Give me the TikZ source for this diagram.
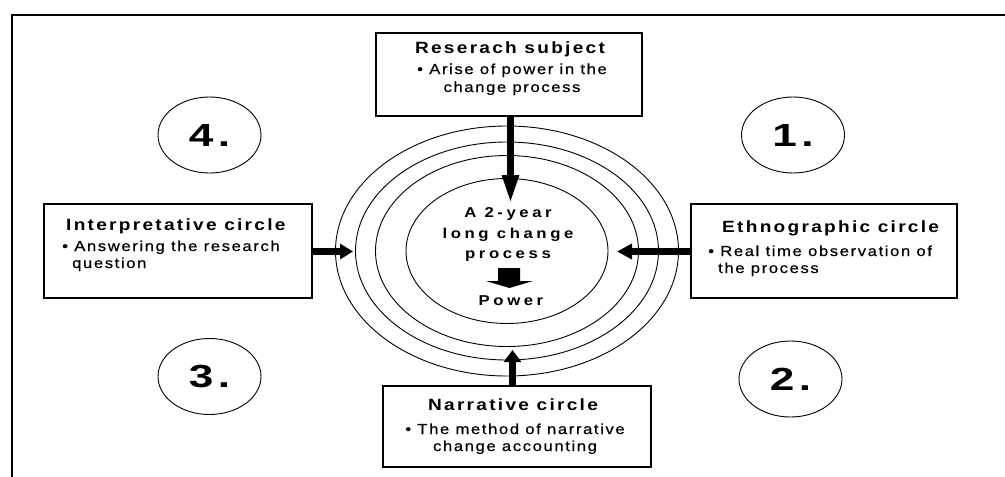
\documentclass[tikz,border=0pt]{standalone}
\usepackage{fontspec}
\setmainfont{Liberation Sans}
\newfontfamily\titlefont{Liberation Sans}[FakeStretch=1.17,LetterSpace=14]
\newfontfamily\bodyfont{Liberation Sans}[FakeStretch=1.15,LetterSpace=11,FakeBold=0.6]
\newfontfamily\corefont{Liberation Sans}[FakeStretch=1.17,LetterSpace=25]
\newfontfamily\numfont{Liberation Sans}[FakeStretch=1.38,LetterSpace=14]
\usetikzlibrary{arrows.meta,shapes.geometric}

\begin{document}
\begin{tikzpicture}[x=1pt,y=-1pt,
    box/.style={draw, line width=1.2pt, inner sep=0pt},
    title/.style={inner sep=0pt, font=\titlefont\bfseries\fontsize{16.3}{19}\selectfont},
    body/.style={inner sep=0pt, font=\bodyfont\fontsize{14.5}{17}\selectfont},
    coretext/.style={inner sep=0pt, font=\corefont\bfseries\fontsize{14.3}{17}\selectfont},
    numring/.style={draw, ellipse, line width=0.9pt, inner sep=0pt, minimum width=103pt, minimum height=76pt, font=\numfont\bfseries\fontsize{32}{32}\selectfont},
    bigarrow/.style={line width=7.5pt}]
    \useasboundingbox (0,0) rectangle (1005,477);
    \draw[line width=2pt] (12,477) -- (12,15) -- (1005,15);

    % the four rings round the change process
    \coordinate (core) at (507,251);
    \foreach \rx/\ry in {171.5/125, 151.5/109, 131.5/95.5, 101/72.5}
        \draw[line width=0.9pt] (core) ellipse [x radius=\rx, y radius=\ry];

    % boxes
    \node[box, minimum width=266pt, minimum height=83pt] (subject) at (509,74.5) {};
    \node[box, minimum width=268pt, minimum height=94pt] (interp) at (178,251) {};
    \node[box, minimum width=266pt, minimum height=94pt] (ethno) at (824,251) {};
    \node[box, minimum width=268pt, minimum height=81pt] (narr) at (517,426.5) {};

    \node[title, anchor=base] (subjectT) at (510,53) {Reserach subject};
    \node[body, anchor=base] (subjectA) at (512,74) {• Arise of power in the};
    \node[body, anchor=base] (subjectB) at (512,92) {change process};

    \node[title, anchor=base west] (interpT) at (66,230) {Interpretative circle};
    \node[body, anchor=base west] (interpA) at (62,251) {• Answering the research};
    \node[body, anchor=base west] (interpB) at (72,268) {question};

    \node[title, anchor=base west] (ethnoT) at (722,232) {Ethnographic circle};
    \node[body, anchor=base west] (ethnoA) at (708,256) {• Real time observation of};
    \node[body, anchor=base west] (ethnoB) at (718,273) {the process};

    \node[title, anchor=base] (narrT) at (513,410) {Narrative circle};
    \node[body, anchor=base] (narrA) at (515,434) {• The method of narrative};
    \node[body, anchor=base] (narrB) at (515,451) {change accounting};

    % centre
    \foreach \txt/\yy [count=\i] in {A 2-year/217, long change/238, process/258}
        \node[coretext, anchor=base] (core\i) at (508,\yy) {\txt};
    \fill (498,268) -- (520,268) -- (520,281) -- (533,281) -- (509.5,288) -- (486,281) -- (498,281) -- cycle;
    \node[coretext, anchor=base] (power) at (511,305) {Power};

    % numbered steps
    \node[numring] (n1) at (793,135) {1.};
    \node[numring] (n2) at (790.5,379) {2.};
    \node[numring] (n3) at (209.5,376.5) {3.};
    \node[numring] (n4) at (209.5,135) {4.};

    % arrows into the rings
    \coordinate (topTip) at (510.5,205);
    \coordinate (leftTip) at (353,251.5);
    \coordinate (rightTip) at (617,251.5);
    \coordinate (botTip) at (512.5,350);
    \draw[bigarrow, -{Triangle[length=30pt,width=15pt]}] (subject.south -| topTip) -- (topTip);
    \draw[bigarrow, -{Triangle[length=13pt,width=15pt]}] (interp.east |- leftTip) -- (leftTip);
    \draw[bigarrow, -{Triangle[length=15pt,width=15pt]}] (ethno.west |- rightTip) -- (rightTip);
    \draw[bigarrow, -{Triangle[length=12pt,width=17pt]}] (narr.north -| botTip) -- (botTip);
\end{tikzpicture}
\end{document}
